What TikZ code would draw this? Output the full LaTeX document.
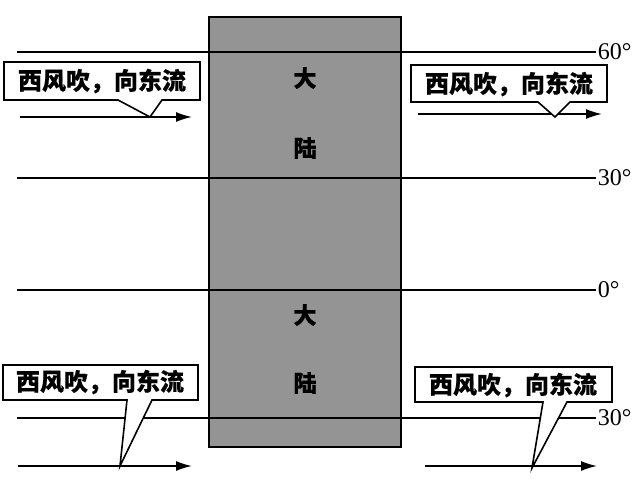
\documentclass[tikz,border=0pt]{standalone}
\usepackage{fontspec}
\newfontfamily\cjk[FakeBold=0.5]{Noto Sans CJK SC}
\setmainfont{Liberation Serif}
\usetikzlibrary{arrows.meta}
\begin{document}
\begin{tikzpicture}[x=1pt,y=-1pt,line width=1.6pt,
 lat/.style={font=\fontsize{24}{24}\selectfont,anchor=west,inner sep=1pt},
 land/.style={font=\cjk\bfseries\fontsize{23}{23}\selectfont},
 ctext/.style={font=\cjk\bfseries\fontsize{24}{24}\selectfont},
 flow/.style={-{Latex[length=16pt,width=10pt]}},
 call/.style={draw,fill=white,line width=1.6pt,line join=miter}]
\useasboundingbox (0,0) rectangle (640,480);
\node[draw,fill=black!42,minimum width=192pt,minimum height=430pt,inner sep=0,line width=1.2pt] (cont) at (305,232) {};
\foreach \y/\l/\n in {52/60\textdegree/a,178/30\textdegree/b,290/0\textdegree/c,418/30\textdegree/d}{
 \coordinate (s\n) at (17,\y);
 \node[lat] (t\n) at (596,\y) {\l};
 \draw (s\n) -- (t\n.west);
}
\node[land] (d1) at (305,78) {大};
\node[land] (l1) at (305,148) {陆};
\node[land] (d2) at (305,315) {大};
\node[land] (l2) at (305,383) {陆};
\coordinate (a1s) at (20,117); \coordinate (a1e) at (192,117);
\coordinate (a2s) at (418,114); \coordinate (a2e) at (602,114);
\coordinate (a3s) at (18,466); \coordinate (a3e) at (192,466);
\coordinate (a4s) at (425,466); \coordinate (a4e) at (597,466);
\draw[flow] (a1s) -- (a1e);
\draw[flow] (a2s) -- (a2e);
\draw[flow] (a3s) -- (a3e);
\draw[flow] (a4s) -- (a4e);
\draw[call] (4,62) -- (200,62) -- (200,100) -- (162,100) -- (150,117) -- (118,100) -- (4,100) -- cycle;
\node[ctext] (c1) at (102,81) {西风吹，向东流};
\draw[call] (411,65) -- (607,65) -- (607,102) -- (570,102) -- (555,117) -- (538,102) -- (411,102) -- cycle;
\node[ctext] (c2) at (509,84) {西风吹，向东流};
\draw[call] (3,365) -- (198,365) -- (198,400) -- (152,400) -- (120,466) -- (127,400) -- (3,400) -- cycle;
\node[ctext] (c3) at (100,382) {西风吹，向东流};
\draw[call] (415,367) -- (612,367) -- (612,402) -- (567,402) -- (532,468) -- (543,402) -- (415,402) -- cycle;
\node[ctext] (c4) at (513,385) {西风吹，向东流};
\end{tikzpicture}
\end{document}
